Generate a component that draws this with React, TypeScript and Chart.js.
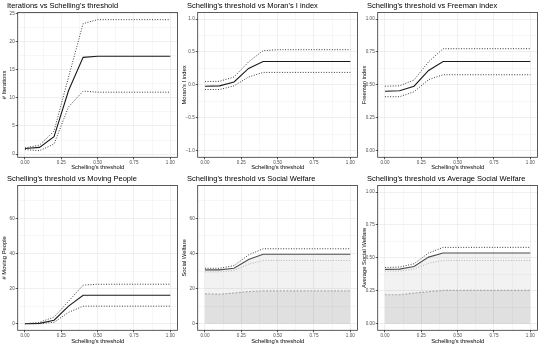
import React, { useEffect, useRef } from "react";
import { Chart, registerables } from "chart.js";
Chart.register(...registerables);

const FONT = "'Liberation Sans', Arial, Helvetica, sans-serif";

const thresholds = [0, 0.1, 0.2, 0.3, 0.4, 0.5, 0.6, 0.7, 0.8, 0.9, 1.0];

const iterMean = [1.0, 1.2, 3.1, 11.3, 17.2, 17.4, 17.4, 17.4, 17.4, 17.4, 17.4];
const iterUpper = [1.1, 1.6, 4.1, 13.7, 23.2, 23.9, 23.9, 23.9, 23.9, 23.9, 23.9];
const iterLower = [0.8, 0.6, 1.8, 8.4, 11.2, 11.0, 11.0, 11.0, 11.0, 11.0, 11.0];

const moranMean = [-0.02, -0.015, 0.045, 0.25, 0.355, 0.355, 0.355, 0.355, 0.355, 0.355, 0.355];
const moranUpper = [0.05, 0.055, 0.12, 0.35, 0.52, 0.535, 0.535, 0.535, 0.535, 0.535, 0.535];
const moranLower = [-0.07, -0.07, -0.015, 0.12, 0.19, 0.19, 0.19, 0.19, 0.19, 0.19, 0.19];

const freemanMean = [0.452, 0.455, 0.49, 0.61, 0.678, 0.678, 0.678, 0.678, 0.678, 0.678, 0.678];
const freemanUpper = [0.49, 0.493, 0.537, 0.676, 0.775, 0.775, 0.775, 0.775, 0.775, 0.775, 0.775];
const freemanLower = [0.41, 0.41, 0.448, 0.54, 0.577, 0.577, 0.577, 0.577, 0.577, 0.577, 0.577];

const movingMean = [0, 0.2, 2.0, 10.0, 16.2, 16.2, 16.2, 16.2, 16.2, 16.2, 16.2];
const movingUpper = [0, 0.8, 3.8, 12.8, 22.0, 22.5, 22.5, 22.5, 22.5, 22.5, 22.5];
const movingLower = [0, 0, 0.8, 6.5, 10.0, 10.0, 10.0, 10.0, 10.0, 10.0, 10.0];

const welfareMean = [30.7, 30.7, 31.6, 36.6, 39.6, 39.6, 39.6, 39.6, 39.6, 39.6, 39.6];
const welfareUpper = [31.6, 31.6, 33.1, 39.2, 42.7, 42.7, 42.7, 42.7, 42.7, 42.7, 42.7];
const welfareLower = [29.5, 29.5, 30.3, 33.9, 36.0, 36.0, 36.0, 36.0, 36.0, 36.0, 36.0];
const welfareBase = [17.0, 16.8, 17.5, 18.3, 18.7, 18.7, 18.7, 18.7, 18.7, 18.7, 18.7];

const avgWelfareMean = [0.413, 0.415, 0.435, 0.506, 0.537, 0.537, 0.537, 0.537, 0.537, 0.537, 0.537];
const avgWelfareUpper = [0.428, 0.43, 0.456, 0.537, 0.58, 0.58, 0.58, 0.58, 0.58, 0.58, 0.58];
const avgWelfareLower = [0.4, 0.4, 0.415, 0.46, 0.48, 0.48, 0.48, 0.48, 0.48, 0.48, 0.48];
const avgWelfareBase = [0.22, 0.22, 0.233, 0.243, 0.253, 0.253, 0.253, 0.253, 0.253, 0.253, 0.253];

const xTicks = [0, 0.25, 0.5, 0.75, 1];
const xTickLabels = ["0.00", "0.25", "0.50", "0.75", "1.00"];

const iterTicks = [0, 5, 10, 15, 20, 25];
const iterTickLabels = ["0", "5", "10", "15", "20", "25"];
const moranTicks = [-1, -0.5, 0, 0.5, 1];
const moranTickLabels = ["\u22121.0", "\u22120.5", "0.0", "0.5", "1.0"];
const unitTicks = [0, 0.25, 0.5, 0.75, 1];
const unitTickLabels = ["0.00", "0.25", "0.50", "0.75", "1.00"];
const countTicks = [0, 20, 40, 60];
const countTickLabels = ["0", "20", "40", "60"];

function withMinor(major: number[], lo: number, hi: number) {
  const step = major[1] - major[0];
  const all: number[] = [];
  for (let i = -1; i < major.length; i++) {
    const m = major[0] + step * i;
    if (m >= lo && m <= hi) all.push(m);
    const mm = m + step / 2;
    if (mm >= lo && mm <= hi) all.push(mm);
  }
  return all;
}

type PanelCfg = {
  title: string;
  yTitle: string;
  yMin: number;
  yMax: number;
  yTicks: number[];
  yLabels: string[];
  mean: number[];
  upper: number[];
  lower: number[];
  base?: number[];
};

const panels: PanelCfg[] = [
  { title: "Iterations vs Schelling's threshold", yTitle: "# Iterations", yMin: -0.57, yMax: 25.17, yTicks: iterTicks, yLabels: iterTickLabels, mean: iterMean, upper: iterUpper, lower: iterLower },
  { title: "Schelling's threshold vs Moran's I index", yTitle: "Moran's I index", yMin: -1.1, yMax: 1.1, yTicks: moranTicks, yLabels: moranTickLabels, mean: moranMean, upper: moranUpper, lower: moranLower },
  { title: "Schelling's threshold vs Freeman index", yTitle: "Freeman index", yMin: -0.05, yMax: 1.05, yTicks: unitTicks, yLabels: unitTickLabels, mean: freemanMean, upper: freemanUpper, lower: freemanLower },
  { title: "Schelling's threshold vs Moving People", yTitle: "# Moving People", yMin: -3.75, yMax: 78.75, yTicks: countTicks, yLabels: countTickLabels, mean: movingMean, upper: movingUpper, lower: movingLower },
  { title: "Schelling's threshold vs Social Welfare", yTitle: "Social Welfare", yMin: -3.75, yMax: 78.75, yTicks: countTicks, yLabels: countTickLabels, mean: welfareMean, upper: welfareUpper, lower: welfareLower, base: welfareBase },
  { title: "Schelling's threshold vs Average Social Welfare", yTitle: "Average Social Welfare", yMin: -0.05, yMax: 1.05, yTicks: unitTicks, yLabels: unitTickLabels, mean: avgWelfareMean, upper: avgWelfareUpper, lower: avgWelfareLower, base: avgWelfareBase },
];

function pts(arr: number[]) {
  return thresholds.map((x, i) => ({ x, y: arr[i] }));
}

function isMajor(v: number, major: number[]) {
  return major.some((m) => Math.abs(m - v) < 1e-9);
}

function Panel({ cfg, width, height }: { cfg: PanelCfg; width: number; height: number }) {
  const ref = useRef<HTMLCanvasElement | null>(null);
  useEffect(() => {
    if (!ref.current) return;
    const plotTop = 12.5;
    const plotBottom = 157.3;
    const plotLeft = 17.7;
    const plotRight = 177.6;
    const filled = !!cfg.base;
    const datasets: any[] = [
      { data: pts(cfg.lower), borderColor: filled ? "#b3b3b3" : "#3a3a3a", borderWidth: 1, borderDash: [1, 1.6], fill: false },
      { data: pts(cfg.upper), borderColor: "#3a3a3a", borderWidth: 1, borderDash: [1, 1.6], fill: false },
    ];
    if (cfg.base) {
      datasets.push({ data: pts(cfg.base), borderColor: "#ababab", borderWidth: 1.2, borderDash: [2, 1.4], fill: "origin", backgroundColor: "rgba(0,0,0,0.08)" });
      datasets.push({ data: pts(cfg.mean), borderColor: "#4d4d4d", borderWidth: 1.1, fill: "origin", backgroundColor: "rgba(0,0,0,0.05)" });
    } else {
      datasets.push({ data: pts(cfg.mean), borderColor: "#1a1a1a", borderWidth: 1.1, fill: false });
    }
    const xAll = withMinor(xTicks, -0.05, 1.05);
    const yAll = withMinor(cfg.yTicks, cfg.yMin, cfg.yMax);
    const frame = {
      id: "frame",
      afterDraw(chart: any) {
        const { ctx, chartArea: a } = chart;
        ctx.save();
        ctx.strokeStyle = "#333333";
        ctx.lineWidth = 0.8;
        ctx.strokeRect(a.left, a.top, a.right - a.left, a.bottom - a.top);
        ctx.fillStyle = "#000";
        ctx.font = `7.5px ${FONT}`;
        ctx.textBaseline = "alphabetic";
        ctx.textAlign = "left";
        ctx.fillText(cfg.title, 7, 8);
        ctx.restore();
      },
    };
    const chart = new Chart(ref.current, {
      type: "line",
      data: { datasets },
      plugins: [frame],
      options: {
        responsive: false,
        animation: false,
        devicePixelRatio: 1,
        layout: { padding: { left: 0, right: width - plotRight, top: plotTop, bottom: 0 } },
        plugins: { legend: { display: false }, tooltip: { enabled: false }, title: { display: false } },
        elements: { point: { radius: 0 }, line: { tension: 0 } },
        scales: {
          x: {
            type: "linear",
            min: -0.05,
            max: 1.05,
            afterBuildTicks: (s: any) => { s.ticks = xAll.map((v) => ({ value: v })); },
            afterFit: (s: any) => { s.height = height - plotBottom; },
            ticks: {
              autoSkip: false, maxRotation: 0, padding: 1, color: "#4d4d4d",
              font: { family: FONT, size: 4.6 },
              callback: (v: any) => { const i = xTicks.findIndex((m) => Math.abs(m - v) < 1e-9); return i >= 0 ? xTickLabels[i] : ""; },
            },
            grid: {
              color: "#ebebeb",
              lineWidth: (c: any) => (c.tick && isMajor(c.tick.value, xTicks) ? 0.8 : 0.4),
              tickLength: 2,
              tickWidth: 0.8,
              tickColor: (c: any) => (c.tick && isMajor(c.tick.value, xTicks) ? "#333333" : "rgba(0,0,0,0)"),
            },
            border: { display: false },
            title: { display: true, text: "Schelling's threshold", color: "#000", font: { family: FONT, size: 5.8 }, padding: { top: 0, bottom: 2.5 } },
          },
          y: {
            type: "linear",
            min: cfg.yMin,
            max: cfg.yMax,
            afterBuildTicks: (s: any) => { s.ticks = yAll.map((v) => ({ value: v })); },
            afterFit: (s: any) => { s.width = plotLeft; },
            ticks: {
              autoSkip: false, padding: 1, color: "#4d4d4d",
              font: { family: FONT, size: 4.6 },
              callback: (v: any) => { const i = cfg.yTicks.findIndex((m) => Math.abs(m - v) < 1e-9); return i >= 0 ? cfg.yLabels[i] : ""; },
            },
            grid: {
              color: "#ebebeb",
              lineWidth: (c: any) => (c.tick && isMajor(c.tick.value, cfg.yTicks) ? 0.8 : 0.4),
              tickLength: 2,
              tickWidth: 0.8,
              tickColor: (c: any) => (c.tick && isMajor(c.tick.value, cfg.yTicks) ? "#333333" : "rgba(0,0,0,0)"),
            },
            border: { display: false },
            title: { display: true, text: cfg.yTitle, color: "#000", font: { family: FONT, size: 5.8 }, padding: { top: 0.5, bottom: 0 } },
          },
        },
      } as any,
    });
    return () => chart.destroy();
  }, [cfg, width, height]);
  return <canvas ref={ref} width={width} height={height} style={{ display: "block", width, height }} />;
}

export default function App() {
  useEffect(() => {
    document.body.style.margin = "0";
  }, []);
  return (
    <div style={{ position: "absolute", left: 0, top: 0, width: 540, height: 347, background: "#fff" }}>
      {panels.map((p, i) => {
        const col = i % 3;
        const row = Math.floor(i / 3);
        const h = row === 0 ? 173 : 174;
        return (
          <div key={i} style={{ position: "absolute", left: col * 180, top: row * 173, width: 180, height: h }}>
            <Panel cfg={p} width={180} height={h} />
          </div>
        );
      })}
    </div>
  );
}
